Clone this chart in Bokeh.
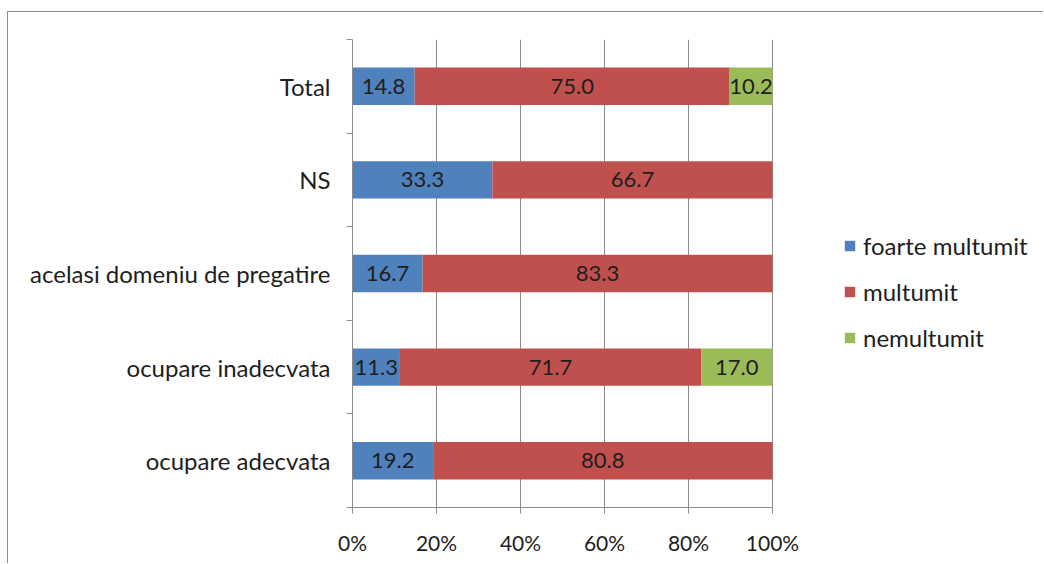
from bokeh.plotting import figure
from bokeh.models import ColumnDataSource, Range1d, FixedTicker, Legend, LegendItem
from bokeh.core.properties import value
from bokeh.embed import file_html
from bokeh.resources import INLINE

categories = ["ocupare adecvata", "ocupare inadecvata", "acelasi domeniu de pregatire", "NS", "Total"]
foarte_multumit = [19.2, 11.3, 16.7, 33.3, 14.8]
multumit = [80.8, 71.7, 83.3, 66.7, 75.0]
nemultumit = [0.0, 17.0, 0.0, 0.0, 10.2]
series_names = ["foarte multumit", "multumit", "nemultumit"]
colors = ["#4F81BD", "#C0504D", "#9BBB59"]
x_ticks = [0, 20, 40, 60, 80, 100]
x_tick_labels = ["0%", "20%", "40%", "60%", "80%", "100%"]

FONT = "Lato"
TXT = "#1e1e1e"

W, H = 1036, 552
LEFT, TOP, BOTTOM = 344, 27, 57
BAR_AREA = 420  # pixel width of the 0..100% span
frame_w = W - LEFT
x_end = 100.0 * frame_w / BAR_AREA  # extra room on the right holds the legend

ypos = [i + 0.5 for i in range(len(categories))]
series = [foarte_multumit, multumit, nemultumit]

p = figure(width=W, height=H, output_backend="svg", toolbar_location=None,
           x_range=Range1d(0, x_end), y_range=Range1d(0, len(categories)),
           min_border_left=LEFT, min_border_right=0, min_border_top=TOP, min_border_bottom=BOTTOM)
p.outline_line_color = None
p.background_fill_color = "white"
p.border_fill_color = "white"
p.styles = {"margin-left": "7px", "margin-top": "11px",
            "border-top": "1px solid #8c8c8c", "border-left": "1px solid #8c8c8c"}

renderers = []
left = [0.0] * len(categories)
for name, vals, col in zip(series_names, series, colors):
    right = [l + v for l, v in zip(left, vals)]
    src = ColumnDataSource(dict(y=ypos, left=left, right=right))
    r = p.hbar(y="y", left="left", right="right", height=0.4, source=src,
               fill_color=col, line_color=None)
    renderers.append(r)
    lx, ly, lt = [], [], []
    for l, rr, v, y in zip(left, right, vals, ypos):
        if v > 0:
            lx.append((l + rr) / 2)
            ly.append(y)
            lt.append(f"{v:.1f}")
    tsrc = ColumnDataSource(dict(x=lx, y=ly, t=lt))
    p.text(x="x", y="y", text="t", source=tsrc, text_align="center", text_baseline="middle",
           text_font=value(FONT), text_font_size="22px", text_color=TXT)
    left = right

# grid
p.ygrid.visible = False
p.xgrid.ticker = FixedTicker(ticks=x_ticks[1:])
p.xgrid.grid_line_color = "#8c8c8c"
p.xgrid.grid_line_width = 1

# x axis
xa = p.xaxis[0]
xa.ticker = FixedTicker(ticks=x_ticks, minor_ticks=[])
xa.bounds = (0, 100)
xa.major_label_overrides = {t: s for t, s in zip(x_ticks, x_tick_labels)}
xa.axis_line_color = "#8c8c8c"
xa.major_tick_line_color = "#8c8c8c"
xa.major_tick_out = 6
xa.major_tick_in = 0
xa.minor_tick_out = 0
xa.major_label_standoff = 16
xa.major_label_text_font = FONT
xa.major_label_text_font_size = "21px"
xa.major_label_text_color = TXT

# y axis
ya = p.yaxis[0]
ya.ticker = FixedTicker(ticks=ypos, minor_ticks=list(range(len(categories) + 1)))
ya.major_label_overrides = {y: c for y, c in zip(ypos, categories)}
ya.axis_line_color = "#8c8c8c"
ya.major_tick_out = 0
ya.major_tick_in = 0
ya.minor_tick_line_color = "#8c8c8c"
ya.minor_tick_out = 6
ya.minor_tick_in = 0
ya.major_label_standoff = 16
ya.major_label_text_font = FONT
ya.major_label_text_font_size = "24px"
ya.major_label_text_color = TXT

legend = Legend(items=[LegendItem(label=n, renderers=[r]) for n, r in zip(series_names, renderers)],
                location=(491, 155), glyph_width=13, glyph_height=13, label_height=30,
                spacing=16, padding=0, margin=0, label_standoff=7,
                label_text_font=FONT, label_text_font_size="24px", label_text_color=TXT,
                border_line_color=None, background_fill_alpha=0)
p.add_layout(legend, "center")

open("out.html", "w").write(file_html(p, INLINE))
